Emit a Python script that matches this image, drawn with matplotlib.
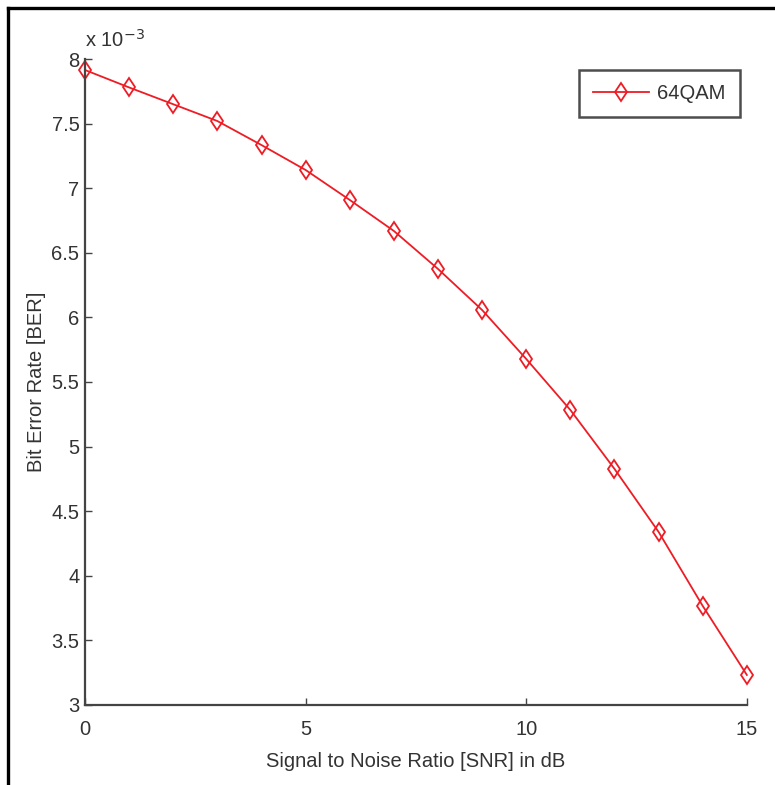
import matplotlib
matplotlib.use("Agg")
import matplotlib.pyplot as plt
from matplotlib.lines import Line2D
from matplotlib.ticker import FuncFormatter

# BER of 64-QAM against SNR (values in units of 1e-3)
snr_db = [0, 1, 2, 3, 4, 5, 6, 7, 8, 9, 10, 11, 12, 13, 14, 15]
ber_e3 = [7.915, 7.78, 7.65, 7.52, 7.334, 7.141, 6.909, 6.669,
          6.375, 6.057, 5.678, 5.283, 4.827, 4.339, 3.766, 3.232]
ber = [v * 1e-3 for v in ber_e3]

xticks = [0, 5, 10, 15]
yticks = [3e-3, 3.5e-3, 4e-3, 4.5e-3, 5e-3, 5.5e-3, 6e-3, 6.5e-3, 7e-3, 7.5e-3, 8e-3]

plt.rcParams['font.family'] = ['Liberation Sans', 'DejaVu Sans']
txt = '#333333'
fs = 14.5

fig = plt.figure(figsize=(7.75, 7.85), dpi=100)
ax = fig.add_axes([0.1097, 0.102, 0.854, 0.8228])

ax.plot(snr_db, ber, color='#ee1c24', lw=1.3, marker='d', markersize=9.5,
        markerfacecolor='none', markeredgecolor='#ee1c24', markeredgewidth=1.3,
        label='64QAM', clip_on=False)

ax.set_xlim(0, 15)
ax.set_ylim(3e-3, 8e-3)
ax.set_xticks(xticks)
ax.set_yticks(yticks)
ax.yaxis.set_major_formatter(FuncFormatter(lambda v, p: f"{v * 1e3:g}"))

for side in ['top', 'right']:
    ax.spines[side].set_visible(False)
for side in ['left', 'bottom']:
    ax.spines[side].set_color('#444444')
    ax.spines[side].set_linewidth(1.6)

ax.tick_params(direction='in', length=5, width=1, colors='#444444',
               labelcolor=txt, labelsize=fs, pad=4)
ax.tick_params(axis='x', pad=11)

ax.set_xlabel('Signal to Noise Ratio [SNR] in dB', fontsize=fs, color=txt, labelpad=9)
ax.set_ylabel('Bit Error Rate [BER]', fontsize=fs, color=txt, labelpad=4)

# exponent label above the y axis
ax.text(0.0, 1.012, r'x 10$^{-3}$', transform=ax.transAxes, fontsize=fs,
        color=txt, ha='left', va='bottom')

leg = ax.legend(loc='upper right', bbox_to_anchor=(0.989, 0.983), fontsize=fs,
                frameon=True, fancybox=False, handlelength=2.8, borderpad=0.7,
                handletextpad=0.4, borderaxespad=0)
leg.get_frame().set_edgecolor('#222222')
leg.get_frame().set_linewidth(1.8)
for t in leg.get_texts():
    t.set_color(txt)

# partial outer frame along the top and left edges
fig.add_artist(Line2D([0.0097, 1.0], [0.9898, 0.9898], color='black', lw=2.4,
                      transform=fig.transFigure))
fig.add_artist(Line2D([0.0097, 0.0097], [0.0, 0.9898], color='black', lw=2.4,
                      transform=fig.transFigure))

fig.savefig('out.png', dpi=100)
